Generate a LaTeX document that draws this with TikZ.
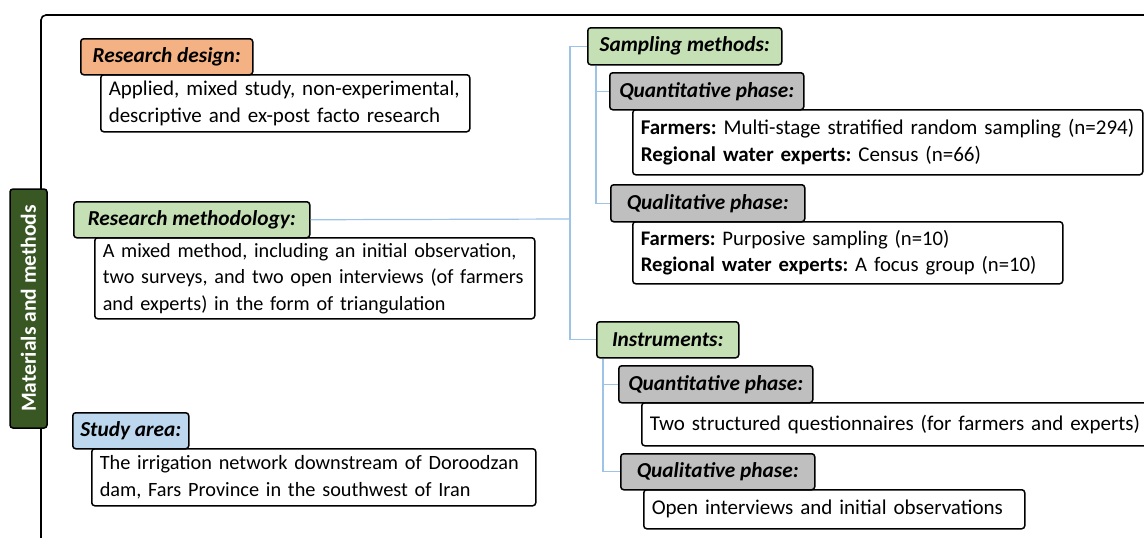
\documentclass[tikz,border=0pt]{standalone}
\usepackage{fontspec}
\setmainfont{Carlito}
\usepackage{tikz}
\usepackage{xcolor}
\frenchspacing

\definecolor{orangehead}{HTML}{F4B183}
\definecolor{greenhead}{HTML}{C5E0B4}
\definecolor{bluehead}{HTML}{BDD7EE}
\definecolor{grayhead}{HTML}{BFBFBF}
\definecolor{darkgreen}{HTML}{385723}
\definecolor{linkblue}{HTML}{9DC3E6}

\tikzset{
	head/.style = {draw = black, line width = 1.5pt, rounded corners = 3pt, anchor = north west, inner sep = 0pt, font = \fontsize{21.3}{25}\selectfont\bfseries\itshape},
	txt/.style = {draw = black, fill = white, line width = 1.5pt, rounded corners = 3pt, anchor = north west, inner xsep = 8pt, inner ysep = 0pt, align = left, font = \fontsize{#1}{26.5}\selectfont},
	txt/.default = 21,
	sidebox/.style = {draw = black, fill = darkgreen, line width = 1.5pt, rounded corners = 3pt, rotate = 90, text = white, font = \fontsize{21.5}{25}\selectfont\bfseries},
	link/.style = {draw = linkblue, line width = 1.2pt}
}

\begin{document}
\begin{tikzpicture}[x = 1pt, y = -1pt]
	
	\useasboundingbox (0,0) rectangle (1144,538);
	\clip (0,0) rectangle (1144,538);
	
	\draw[line width = 1.6pt, rounded corners = 5pt] (41,560) -- (41,15) -- (1160,15);
	\node[sidebox, minimum width = 239pt, minimum height = 37pt] (mm) at (28.5,308.5) {Materials and methods};
	
	\node[txt, text width = 353pt, minimum height = 57pt] (designtxt) at (100,74) {Applied, mixed study, non-experimental,\\descriptive and ex-post facto research};
	\node[head, fill = orangehead, minimum width = 172pt, minimum height = 36pt] (design) at (80,38) {Research design:};
	
	\node[txt = 20.2, text width = 424pt, minimum height = 81pt] (methodtxt) at (94,237) {A mixed method, including an initial observation,\\two surveys, and two open interviews (of farmers\\and experts) in the form of triangulation};
	\node[head, fill = greenhead, minimum width = 236pt, minimum height = 36pt] (method) at (73,201) {Research methodology:};
	
	\node[txt = 20.3, text width = 428pt, minimum height = 57pt] (areatxt) at (91,448) {The irrigation network downstream of Doroodzan\\dam, Fars Province in the southwest of Iran};
	\node[head, fill = bluehead, minimum width = 116pt, minimum height = 36pt] (area) at (72,412) {Study area:};
	
	\node[head, fill = greenhead, minimum width = 194pt, minimum height = 37pt] (sampling) at (587,27) {Sampling methods:};
	\node[txt, text width = 494pt, minimum height = 65pt] (sqttxt) at (632,109) {\textbf{Farmers:} Multi-stage stratified random sampling (n=294)\\\textbf{Regional water experts:} Census (n=66)};
	\node[head, fill = grayhead, minimum width = 194pt, minimum height = 37pt] (sqt) at (609,72) {Quantitative phase:};
	\node[txt = 20.7, text width = 414pt, minimum height = 62pt] (sqltxt) at (632,221) {\textbf{Farmers:} Purposive sampling (n=10)\\\textbf{Regional water experts:} A focus group (n=10)};
	\node[head, fill = grayhead, minimum width = 194pt, minimum height = 37pt] (sql) at (610,184) {Qualitative phase:};
	
	\node[head, fill = greenhead, minimum width = 142pt, minimum height = 36pt] (instr) at (596,321) {Instruments:};
	\node[txt, text width = 500pt, minimum height = 43pt] (iqttxt) at (641,402) {Two structured questionnaires (for farmers and experts)};
	\node[head, fill = grayhead, minimum width = 194pt, minimum height = 37pt] (iqt) at (618,365) {Quantitative phase:};
	\node[txt, text width = 365pt, minimum height = 39pt] (iqltxt) at (643,489) {Open interviews and initial observations};
	\node[head, fill = grayhead, minimum width = 194pt, minimum height = 36pt] (iql) at (620,453) {Qualitative phase:};
	
	\coordinate (trunk) at (570,219);
	\draw[link] (method.east) -- (trunk);
	\draw[link] (sampling.west) -| (trunk);
	\draw[link] (instr.west) -| (trunk);
	
	\coordinate (sampdrop) at ([xshift = 9pt]sampling.south west);
	\draw[link] (sqt.west) -| (sampdrop);
	\draw[link] (sql.west) -| (sampdrop);
	
	\coordinate (instrdrop) at ([xshift = 7pt]instr.south west);
	\draw[link] (iqt.west) -| (instrdrop);
	\draw[link] (iql.west) -| (instrdrop);
\end{tikzpicture}
\end{document}
